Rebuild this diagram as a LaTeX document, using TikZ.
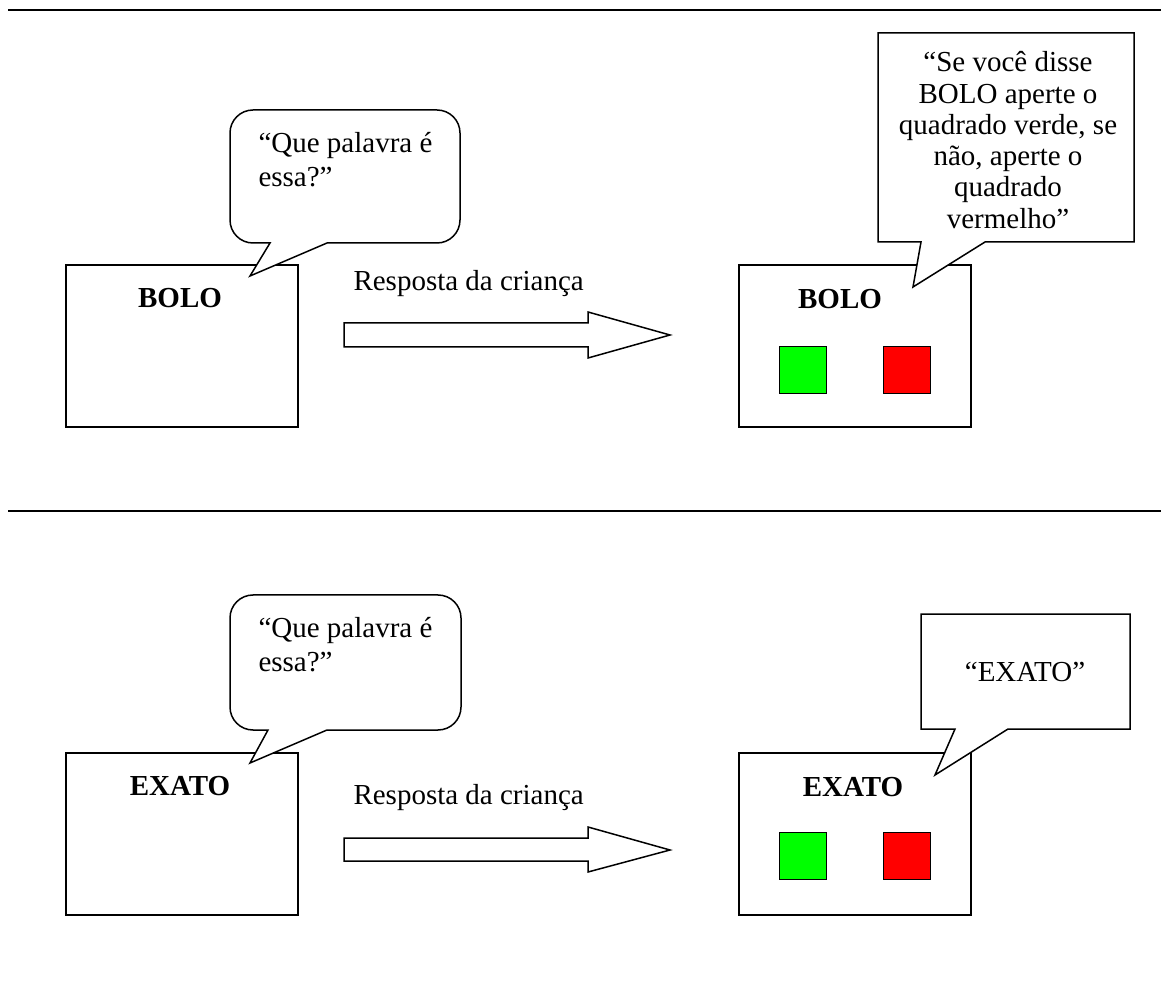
\documentclass[tikz,border=0pt]{standalone}
\usepackage{fontspec}
\setmainfont{Liberation Serif}
\usepackage{tikz}
\usetikzlibrary{positioning,calc}
\usepackage{xcolor}

\definecolor{keygreen}{RGB}{0,255,0}
\definecolor{keyred}{RGB}{255,0,0}

\begin{document}
\begin{tikzpicture}[x=0.4pt, y=-0.4pt, every node/.style={font=\fontsize{11.6pt}{13.6pt}\selectfont, inner sep=0pt}]

	\tikzset{
	card/.style={draw, line width=0.6pt, minimum width=92.8pt, minimum height=64.8pt},
	key/.style={draw, line width=0.6pt, minimum size=18.8pt},
	word/.style={font=\fontsize{11.6pt}{13.6pt}\selectfont\bfseries},
	bubble/.style={draw, fill=white, line width=0.6pt},
	speech/.style={align=left},
	blockarrow/.style={draw, fill=white, line width=0.6pt},
	rule/.style={line width=0.8pt}
	}

	\useasboundingbox (0,0) rectangle (1161,1005);

	% Lines
	\coordinate (rule_top_l) at (8,10);
	\coordinate (rule_top_r) at (1161,10);
	\coordinate (rule_mid_l) at (8,511);
	\coordinate (rule_mid_r) at (1161,511);
	\draw[rule] (rule_top_l) -- (rule_top_r);
	\draw[rule] (rule_mid_l) -- (rule_mid_r);

	% Nodes
	\node[card] (bolo_left) at (182,346) {};
	\node[card, node distance=269.2pt, right of=bolo_left] (bolo_right) {};
	\node[card, node distance=195.2pt, below of=bolo_left] (exato_left) {};
	\node[card, node distance=195.2pt, below of=bolo_right] (exato_right) {};

	\node[word, node distance=19.2pt, above of=bolo_left, xshift=-0.8pt] (word1) {BOLO};
	\node[word, node distance=18.8pt, above of=bolo_right, xshift=-6pt] (word2) {BOLO};
	\node[word, node distance=19.2pt, above of=exato_left, xshift=-0.8pt] (word3) {EXATO};
	\node[word, node distance=18.8pt, above of=exato_right, xshift=-0.8pt] (word4) {EXATO};

	\node[key, fill=keygreen, xshift=-20.8pt, yshift=-9.6pt] (green1) at (bolo_right) {};
	\node[key, fill=keyred, xshift=20.8pt, yshift=-9.6pt] (red1) at (bolo_right) {};
	\node[key, fill=keygreen, xshift=-20.8pt, yshift=-8.8pt] (green2) at (exato_right) {};
	\node[key, fill=keyred, xshift=20.8pt, yshift=-8.8pt] (red2) at (exato_right) {};

	% Arrows
	\draw[blockarrow] (344,323) -- (588,323) -- (588,312) -- (670,335) -- (588,358) -- (588,347) -- (344,347) -- cycle;
	\draw[blockarrow] (344,838) -- (588,838) -- (588,827) -- (670,850) -- (588,872) -- (588,861) -- (344,861) -- cycle;
	\node[anchor=west] (answer1) at (353,284) {Resposta da criança};
	\node[anchor=west] (answer2) at (353,798) {Resposta da criança};

	% Balloons
	\draw[bubble] (327,243) [rounded corners=9.2pt] -- (460,243) -- (460,110) -- (230,110) -- (230,243) [sharp corners] -- (270,243) -- (250,276) -- cycle;
	\node[speech, anchor=west] (ask1) at (258,160) {“Que palavra é\\essa?”};

	\draw[bubble] (921,242) -- (913,287) -- (985,242) -- (1134,242) -- (1134,33) -- (878,33) -- (878,242) -- cycle;
	\node[align=center, font=\fontsize{11.6pt}{12.5pt}\selectfont] (hint) at (1008,140) {“Se você disse\\BOLO aperte o\\quadrado verde, se\\não, aperte o\\quadrado\\vermelho”};

	\draw[bubble] (327,730) [rounded corners=9.2pt] -- (461,730) -- (461,595) -- (230,595) -- (230,730) [sharp corners] -- (268,730) -- (250,763) -- cycle;
	\node[speech, anchor=west] (ask2) at (258,645) {“Que palavra é\\essa?”};

	\draw[bubble] (955,729) -- (935,775) -- (1008,729) -- (1130,729) -- (1130,614) -- (921,614) -- (921,729) -- cycle;
	\node (praise) at (1025,672) {“EXATO”};

\end{tikzpicture}
\end{document}
